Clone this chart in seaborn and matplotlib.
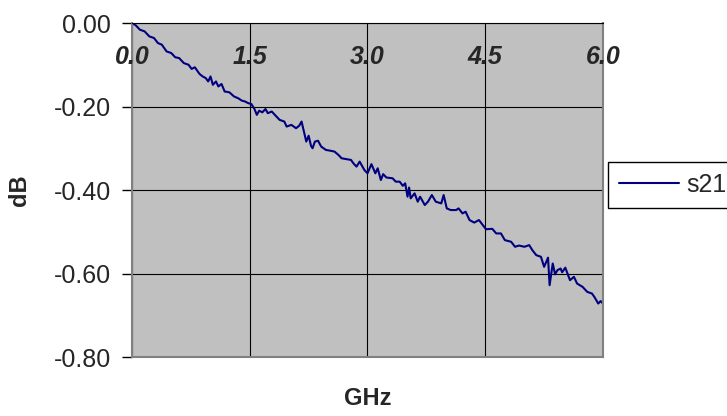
import numpy as np
import pandas as pd
import matplotlib
matplotlib.use("Agg")
import matplotlib.pyplot as plt
import seaborn as sns

# Dados (GHz x dB)
freq_ghz = [
    0.00, 0.05, 0.10, 0.16, 0.22, 0.28, 0.33, 0.38, 0.44, 0.50,
    0.55, 0.60, 0.66, 0.72, 0.76, 0.80, 0.86, 0.90, 0.94, 0.97,
    1.00, 1.03, 1.07, 1.10, 1.14, 1.18, 1.24, 1.30, 1.35, 1.40,
    1.44, 1.48, 1.52, 1.56, 1.59, 1.62, 1.66, 1.70, 1.73, 1.78,
    1.84, 1.88, 1.94, 1.97, 2.03, 2.09, 2.13, 2.16, 2.19, 2.22,
    2.25, 2.28, 2.30, 2.33, 2.37, 2.41, 2.47, 2.53, 2.58, 2.63,
    2.67, 2.73, 2.79, 2.82, 2.86, 2.90, 2.96, 3.00, 3.05, 3.10,
    3.13, 3.17, 3.20, 3.24, 3.32, 3.36, 3.41, 3.45, 3.48, 3.51,
    3.53, 3.55, 3.60, 3.64, 3.67, 3.73, 3.77, 3.82, 3.87, 3.94,
    3.97, 4.01, 4.06, 4.13, 4.16, 4.21, 4.25, 4.30, 4.36, 4.42,
    4.47, 4.51, 4.59, 4.64, 4.70, 4.75, 4.83, 4.88, 4.93, 5.00,
    5.06, 5.10, 5.15, 5.21, 5.25, 5.30, 5.32, 5.36, 5.39, 5.42,
    5.46, 5.48, 5.52, 5.58, 5.63, 5.67, 5.74, 5.80, 5.86, 5.89,
    5.94, 5.97, 6.01,
]
s21_db = [
    0.000, -0.006, -0.016, -0.020, -0.032, -0.036, -0.048, -0.052, -0.068, -0.072,
    -0.082, -0.084, -0.096, -0.100, -0.110, -0.106, -0.122, -0.128, -0.132, -0.140,
    -0.128, -0.148, -0.140, -0.152, -0.146, -0.164, -0.166, -0.176, -0.180, -0.186,
    -0.188, -0.192, -0.194, -0.206, -0.220, -0.210, -0.214, -0.206, -0.216, -0.212,
    -0.224, -0.232, -0.236, -0.248, -0.244, -0.252, -0.246, -0.236, -0.260, -0.284,
    -0.270, -0.294, -0.300, -0.284, -0.282, -0.296, -0.304, -0.306, -0.308, -0.316,
    -0.324, -0.326, -0.328, -0.336, -0.344, -0.332, -0.352, -0.360, -0.338, -0.360,
    -0.348, -0.376, -0.362, -0.370, -0.372, -0.380, -0.380, -0.390, -0.384, -0.416,
    -0.394, -0.420, -0.408, -0.428, -0.416, -0.436, -0.428, -0.412, -0.428, -0.432,
    -0.412, -0.444, -0.448, -0.448, -0.444, -0.456, -0.452, -0.472, -0.478, -0.472,
    -0.484, -0.494, -0.493, -0.504, -0.504, -0.520, -0.524, -0.536, -0.533, -0.536,
    -0.532, -0.544, -0.556, -0.560, -0.584, -0.562, -0.628, -0.576, -0.602, -0.592,
    -0.588, -0.597, -0.586, -0.616, -0.608, -0.624, -0.632, -0.644, -0.648, -0.656,
    -0.672, -0.666, -0.674,
]
x_ticks = [0.0, 1.5, 3.0, 4.5, 6.0]
x_tick_labels = ["0.0", "1.5", "3.0", "4.5", "6.0"]
y_ticks = [0.0, -0.2, -0.4, -0.6, -0.8]

df = pd.DataFrame({"GHz": freq_ghz, "dB": s21_db})

sns.set_theme(style="white")
plt.rcParams["font.family"] = ["Liberation Sans", "DejaVu Sans"]

fig = plt.figure(figsize=(7.27, 4.16), dpi=100)
ax = fig.add_axes([0.1816, 0.1418, 0.6478, 0.8029])
ax.set_facecolor("#C0C0C0")

sns.lineplot(data=df, x="GHz", y="dB", ax=ax, color="#000080", linewidth=1.5,
             estimator=None, sort=False, label="s21")

ax.set_xlim(0, 6)
ax.set_ylim(-0.8, 0)
ax.set_xticks(x_ticks)
ax.set_xticklabels([])
ax.set_yticks(y_ticks)
ax.set_yticklabels([f"{v:.2f}" for v in y_ticks], fontsize=18)
ax.tick_params(axis="x", length=0)
ax.tick_params(axis="y", direction="out", length=7, width=1, color="black", pad=8, left=True)

# grade preta estilo Excel
ax.grid(True, color="black", linewidth=0.8)
ax.set_axisbelow(True)
for side in ["left", "bottom", "right"]:
    ax.spines[side].set_color("#808080")
    ax.spines[side].set_linewidth(1.5)
ax.spines["top"].set_color("black")
ax.spines["top"].set_linewidth(0.8)

# rotulos do eixo x desenhados logo abaixo da linha do zero
for xt, lab in zip(x_ticks, x_tick_labels):
    ax.text(xt, 0.898, lab, transform=ax.get_xaxis_transform(), ha="center", va="center",
            fontsize=18, fontweight="bold", fontstyle="italic")

ax.set_xlabel("GHz", fontsize=17, fontweight="bold")
ax.set_ylabel("dB", fontsize=17, fontweight="bold")
ax.xaxis.set_label_coords(0.5, -0.09)
ax.yaxis.set_label_coords(-0.215, 0.5)

leg = ax.legend(loc="center left", bbox_to_anchor=(0.8363, 0.5553),
                bbox_transform=fig.transFigure, fontsize=18, frameon=True,
                fancybox=False, handlelength=2.4, handletextpad=0.3,
                borderpad=0.45, borderaxespad=0)
leg.get_frame().set_edgecolor("black")
leg.get_frame().set_linewidth(1)
leg.get_frame().set_facecolor("white")
leg.get_frame().set_alpha(1)

fig.savefig("out.png", dpi=100)
plt.close(fig)
